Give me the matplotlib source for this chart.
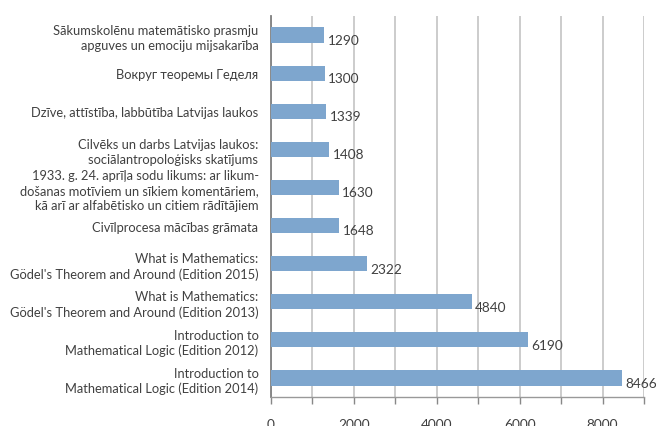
import matplotlib
matplotlib.use("Agg")
import matplotlib.pyplot as plt
from matplotlib.ticker import MultipleLocator, FuncFormatter

categories = [
    "Introduction to\nMathematical Logic (Edition 2014)",
    "Introduction to\nMathematical Logic (Edition 2012)",
    "What is Mathematics:\nGödel's Theorem and Around (Edition 2013)",
    "What is Mathematics:\nGödel's Theorem and Around (Edition 2015)",
    "Civīlprocesa mācības grāmata",
    "1933. g. 24. aprīļa sodu likums: ar likum-\ndošanas motīviem un sīkiem komentāriem,\nkā arī ar alfabētisko un citiem rādītājiem",
    "Cilvēks un darbs Latvijas laukos:\nsociālantropoloģisks skatījums",
    "Dzīve, attīstība, labbūtība Latvijas laukos",
    "Вокруг теоремы Геделя",
    "Sākumskolēnu matemātisko prasmju\napguves un emociju mijsakarība",
]
values = [8466, 6190, 4840, 2322, 1648, 1630, 1408, 1339, 1300, 1290]
x_ticks_labeled = [0, 2000, 4000, 6000, 8000]

plt.rcParams['font.family'] = ['Lato', 'DejaVu Sans']
text_color = '#404040'

fig = plt.figure(figsize=(6.56, 4.27), dpi=100)
ax = fig.add_axes([271/656, 1 - 398/427, (644 - 271)/656, (398 - 17)/427])

pos = list(range(len(categories)))
ax.barh(pos, values, height=0.4, color='#7EA6CE', zorder=3)
for p, v in zip(pos, values):
    ax.annotate(str(v), xy=(v, p), xytext=(2.5, -3.5), textcoords='offset points',
                ha='left', va='center', fontsize=9.8, color=text_color, zorder=4)

ax.set_xlim(0, 9000)
ax.set_ylim(-0.5, len(categories) - 0.5)
ax.xaxis.set_major_locator(MultipleLocator(1000))
ax.xaxis.set_major_formatter(FuncFormatter(lambda x, _: f"{int(x)}" if int(round(x)) in x_ticks_labeled else ""))
ax.grid(axis='x', color='#c8c8c8', linewidth=1.3, zorder=0)
ax.set_yticks(pos)
ax.set_yticklabels(categories, fontsize=9.3, color=text_color, linespacing=1.3)
ax.tick_params(axis='y', length=0, pad=9)
ax.tick_params(axis='x', length=5, width=1.0, color='#888888', labelsize=9.8,
               labelcolor=text_color, pad=10)
for s in ['top', 'right']:
    ax.spines[s].set_visible(False)
ax.spines['left'].set_color('#808080')
ax.spines['left'].set_linewidth(1.3)
ax.spines['bottom'].set_color('#999999')
ax.spines['bottom'].set_linewidth(1.0)
ax.set_axisbelow(True)

fig.savefig("out.png", dpi=100)
